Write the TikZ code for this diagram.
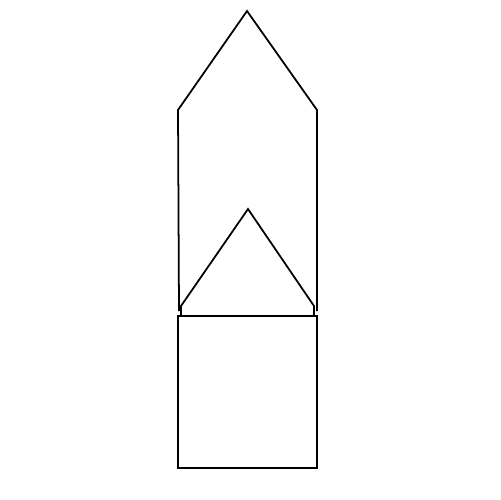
\documentclass[tikz,border=0pt]{standalone}
\usepackage{tikz}
\usetikzlibrary{calc}

\begin{document}
\begin{tikzpicture}[x=0.02cm,y=-0.02cm,
  shape line/.style={line width=1pt,black,line join=miter}]
\useasboundingbox (0,0) rectangle (500,500);

    \coordinate (apex) at (247,11);
    \coordinate (shL) at (178,110);
    \coordinate (shR) at (317,110);
    \coordinate (ftL) at (179,311);
    \coordinate (ftR) at (317,311);

    \coordinate (tTop) at (248,209);
    \coordinate (tL) at (181,306);
    \coordinate (tR) at (314,306);

    \coordinate (sqA) at (178,316);
    \coordinate (sqB) at (317,468);

% outer house
\draw[shape line] (ftL)--(shL)--(apex)--(shR)--(ftR);
% inner roof
\draw[shape line] (181,316)--(tL)--(tTop)--(tR)--(314,316);
% base
\draw[shape line] (sqA) rectangle (sqB);

\end{tikzpicture}
\end{document}
